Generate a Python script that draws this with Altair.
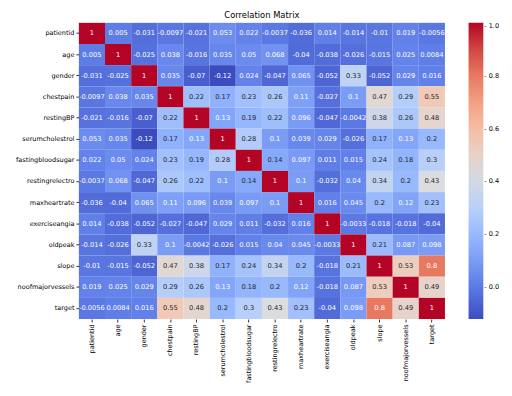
import altair as alt
import pandas as pd

features = ["patientid", "age", "gender", "chestpain", "restingBP", "serumcholestrol",
            "fastingbloodsugar", "restingrelectro", "maxheartrate", "exerciseangia",
            "oldpeak", "slope", "noofmajorvessels", "target"]

r_patientid = [1, 0.005, -0.031, -0.0097, -0.021, 0.053, 0.022, -0.0037, -0.036, 0.014, -0.014, -0.01, 0.019, -0.0056]
r_age = [0.005, 1, -0.025, 0.038, -0.016, 0.035, 0.05, 0.068, -0.04, -0.038, -0.026, -0.015, 0.025, 0.0084]
r_gender = [-0.031, -0.025, 1, 0.035, -0.07, -0.12, 0.024, -0.047, 0.065, -0.052, 0.33, -0.052, 0.029, 0.016]
r_chestpain = [-0.0097, 0.038, 0.035, 1, 0.22, 0.17, 0.23, 0.26, 0.11, -0.027, 0.1, 0.47, 0.29, 0.55]
r_restingBP = [-0.021, -0.016, -0.07, 0.22, 1, 0.13, 0.19, 0.22, 0.096, -0.047, -0.0042, 0.38, 0.26, 0.48]
r_serum = [0.053, 0.035, -0.12, 0.17, 0.13, 1, 0.28, 0.1, 0.039, 0.029, -0.026, 0.17, 0.13, 0.2]
r_fbs = [0.022, 0.05, 0.024, 0.23, 0.19, 0.28, 1, 0.14, 0.097, 0.011, 0.015, 0.24, 0.18, 0.3]
r_electro = [-0.0037, 0.068, -0.047, 0.26, 0.22, 0.1, 0.14, 1, 0.1, -0.032, 0.04, 0.34, 0.2, 0.43]
r_maxhr = [-0.036, -0.04, 0.065, 0.11, 0.096, 0.039, 0.097, 0.1, 1, 0.016, 0.045, 0.2, 0.12, 0.23]
r_angina = [0.014, -0.038, -0.052, -0.027, -0.047, 0.029, 0.011, -0.032, 0.016, 1, -0.0033, -0.018, -0.018, -0.04]
r_oldpeak = [-0.014, -0.026, 0.33, 0.1, -0.0042, -0.026, 0.015, 0.04, 0.045, -0.0033, 1, 0.21, 0.087, 0.098]
r_slope = [-0.01, -0.015, -0.052, 0.47, 0.38, 0.17, 0.24, 0.34, 0.2, -0.018, 0.21, 1, 0.53, 0.8]
r_vessels = [0.019, 0.025, 0.029, 0.29, 0.26, 0.13, 0.18, 0.2, 0.12, -0.018, 0.087, 0.53, 1, 0.49]
r_target = [-0.0056, 0.0084, 0.016, 0.55, 0.48, 0.2, 0.3, 0.43, 0.23, -0.04, 0.098, 0.8, 0.49, 1]

matrix = [r_patientid, r_age, r_gender, r_chestpain, r_restingBP, r_serum, r_fbs,
          r_electro, r_maxhr, r_angina, r_oldpeak, r_slope, r_vessels, r_target]

legend_ticks = [0.0, 0.2, 0.4, 0.6, 0.8, 1.0]

# coolwarm colormap samples
coolwarm = ["#3b4cc0", "#6282ea", "#8db0fe", "#b8d0f9", "#dddddd",
            "#f5c4ac", "#f49a7b", "#de604d", "#b40426"]
vmin, vmax = -0.12, 1.0
cdomain = [vmin + (vmax - vmin) * i / 8 for i in range(9)]

rows = []
for i, rname in enumerate(features):
    for j, cname in enumerate(features):
        v = matrix[i][j]
        rows.append({"row": rname, "col": cname, "value": v, "label": f"{v:.2g}"})
df = pd.DataFrame(rows)

font = "DejaVu Sans"

base = alt.Chart(df).encode(
    x=alt.X("col:N", sort=features, title=None,
            axis=alt.Axis(labelAngle=-90, labelFontSize=6.6, labelFont=font, labelColor="#000",
                          tickSize=3, tickColor="#333", domain=False, labelPadding=2)),
    y=alt.Y("row:N", sort=features, title=None,
            axis=alt.Axis(labelFontSize=6.6, labelFont=font, labelColor="#000",
                          tickSize=3, tickColor="#333", domain=False, labelPadding=2)),
)

rect = base.mark_rect().encode(
    color=alt.Color("value:Q",
                    scale=alt.Scale(domain=cdomain, range=coolwarm, interpolate="rgb"),
                    legend=alt.Legend(title=None, orient="none", legendX=396, legendY=0,
                                      gradientLength=301, gradientThickness=15,
                                      values=legend_ticks, format=".1f",
                                      labelExpr="'- ' + datum.label",
                                      labelFontSize=6.6, labelFont=font, labelColor="#000",
                                      gradientStrokeWidth=0, labelOffset=1))
)

text = base.mark_text(fontSize=6.8, font=font).encode(
    text="label:N",
    color=alt.condition("datum.value >= 0.14 && datum.value < 0.72",
                        alt.value("#262626"), alt.value("#ffffff"))
)

chart = (rect + text).properties(
    width=372, height=301,
    title=alt.TitleParams("Correlation Matrix", fontSize=8.5, font=font, fontWeight="normal",
                          color="#000", offset=3),
    autosize=alt.AutoSizeParams(type="none"),
    padding={"left": 72, "top": 12, "right": 60, "bottom": 67},
).configure_view(stroke=None).configure_scale(bandPaddingInner=0, bandPaddingOuter=0)

chart.save("out.html", embed_options={"renderer": "svg", "actions": False})
